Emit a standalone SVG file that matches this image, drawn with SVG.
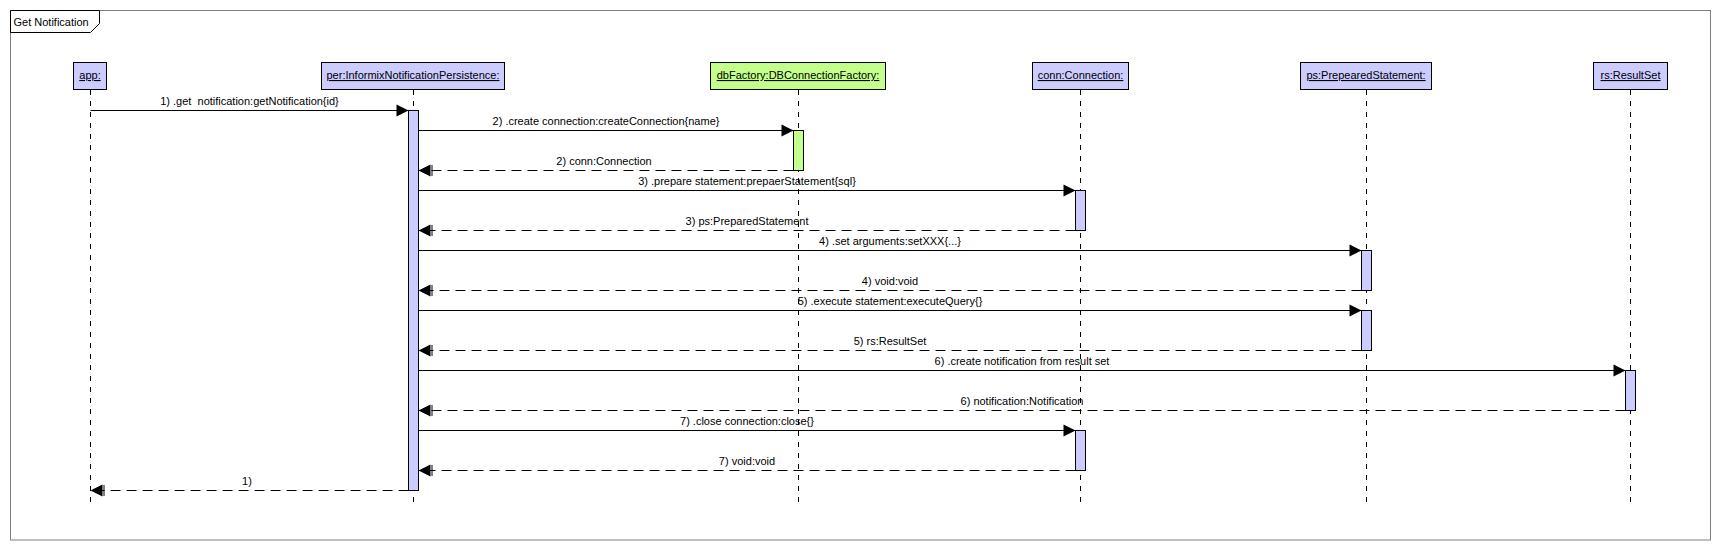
<svg xmlns="http://www.w3.org/2000/svg" width="1720" height="550" viewBox="0 0 1720 550">
<style>
text{font-family:"Liberation Sans",Arial,sans-serif;font-size:11px;fill:#000}
.obj{stroke:#000;stroke-width:1}
.blue{fill:#ccccff}
.green{fill:#c4ff8c}
.name{text-anchor:middle;text-decoration:underline}
.life{stroke:#000;stroke-width:1;stroke-dasharray:5 6;fill:none}
.act{stroke:#000;stroke-width:1}
.call{stroke:#000;stroke-width:1;fill:none;marker-end:url(#callHead)}
.ret{stroke:#000;stroke-width:1;fill:none;stroke-dasharray:10 6;marker-end:url(#retHead)}
.lbl{text-anchor:middle}
</style>
<defs>
<marker id="callHead" markerUnits="userSpaceOnUse" markerWidth="14" markerHeight="14" refX="12" refY="6" orient="auto" overflow="visible">
<path d="M0,0 L12,6 L0,12 Z" fill="#000"/>
</marker>
<marker id="retHead" markerUnits="userSpaceOnUse" markerWidth="14" markerHeight="14" refX="12" refY="6" orient="auto" overflow="visible">
<path d="M0,0 L12,6 L0,12 Z" fill="#000"/>
<path d="M-1.5,0.5 V11.5" stroke="#000" stroke-width="1" fill="none"/>
</marker>
</defs>
<rect x="0" y="0" width="1720" height="550" fill="#fff"/>
<g id="frame">
<rect x="10.5" y="10.5" width="1700" height="529.5" fill="none" stroke="#808080" stroke-width="1"/>
<path d="M10.5,10.5 H99.5 V23.5 L90.5,32.5 H10.5 Z" fill="#fff" stroke="#000" stroke-width="1"/>
<text x="13.5" y="26">Get Notification</text>
</g>
<g id="lifelines">
<line class="life" x1="90.5" y1="90" x2="90.5" y2="507"/>
<line class="life" x1="413.5" y1="90" x2="413.5" y2="507"/>
<line class="life" x1="798.5" y1="90" x2="798.5" y2="507"/>
<line class="life" x1="1080.5" y1="90" x2="1080.5" y2="507"/>
<line class="life" x1="1366.5" y1="90" x2="1366.5" y2="507"/>
<line class="life" x1="1630.5" y1="90" x2="1630.5" y2="507"/>
</g>
<g id="node-app">
<rect class="obj blue" x="73.5" y="62.5" width="33" height="27"/>
<text class="name" x="90" y="79">app:</text>
</g>
<g id="node-per">
<rect class="obj blue" x="321.5" y="62.5" width="183" height="27"/>
<text class="name" x="413" y="79">per:InformixNotificationPersistence:</text>
</g>
<g id="node-dbFactory">
<rect class="obj green" x="710.5" y="62.5" width="175" height="27"/>
<text class="name" x="798" y="79">dbFactory:DBConnectionFactory:</text>
</g>
<g id="node-conn">
<rect class="obj blue" x="1032.5" y="62.5" width="96" height="27"/>
<text class="name" x="1080.5" y="79">conn:Connection:</text>
</g>
<g id="node-ps">
<rect class="obj blue" x="1300.5" y="62.5" width="131" height="27"/>
<text class="name" x="1366" y="79">ps:PrepearedStatement:</text>
</g>
<g id="node-rs">
<rect class="obj blue" x="1593.5" y="62.5" width="74" height="27"/>
<text class="name" x="1630.5" y="79">rs:ResultSet</text>
</g>
<g id="connectors">
<line class="call" x1="90.5" y1="110.5" x2="408.5" y2="110.5"/>
<text class="lbl" x="249.5" y="105" xml:space="preserve">1) .get  notification:getNotification{id}</text>
<line class="call" x1="418.5" y1="130.5" x2="793.5" y2="130.5"/>
<text class="lbl" x="606" y="125">2) .create connection:createConnection{name}</text>
<line class="ret" x1="793.5" y1="170.5" x2="418.5" y2="170.5"/>
<text class="lbl" x="604" y="165">2) conn:Connection</text>
<line class="call" x1="418.5" y1="190.5" x2="1075.5" y2="190.5"/>
<text class="lbl" x="747" y="185">3) .prepare statement:prepaerStatement{sql}</text>
<line class="ret" x1="1075.5" y1="230.5" x2="418.5" y2="230.5"/>
<text class="lbl" x="747" y="225">3) ps:PreparedStatement</text>
<line class="call" x1="418.5" y1="250.5" x2="1361.5" y2="250.5"/>
<text class="lbl" x="890" y="245">4) .set arguments:setXXX{...}</text>
<line class="ret" x1="1361.5" y1="290.5" x2="418.5" y2="290.5"/>
<text class="lbl" x="890" y="285">4) void:void</text>
<line class="call" x1="418.5" y1="310.5" x2="1361.5" y2="310.5"/>
<text class="lbl" x="890" y="305">5) .execute statement:executeQuery{}</text>
<line class="ret" x1="1361.5" y1="350.5" x2="418.5" y2="350.5"/>
<text class="lbl" x="890" y="345">5) rs:ResultSet</text>
<line class="call" x1="418.5" y1="370.5" x2="1625.5" y2="370.5"/>
<text class="lbl" x="1022" y="365">6) .create notification from result set</text>
<line class="ret" x1="1625.5" y1="410.5" x2="418.5" y2="410.5"/>
<text class="lbl" x="1022" y="405">6) notification:Notification</text>
<line class="call" x1="418.5" y1="430.5" x2="1075.5" y2="430.5"/>
<text class="lbl" x="747" y="425">7) .close connection:close{}</text>
<line class="ret" x1="1075.5" y1="470.5" x2="418.5" y2="470.5"/>
<text class="lbl" x="747" y="465">7) void:void</text>
<line class="ret" x1="408.5" y1="490.5" x2="90.5" y2="490.5"/>
<text class="lbl" x="247" y="485">1)</text>
</g>
<g id="activations">
<rect class="act blue" x="408.5" y="110.5" width="10" height="380"/>
<rect class="act green" x="793.5" y="130.5" width="10" height="40"/>
<rect class="act blue" x="1075.5" y="190.5" width="10" height="40"/>
<rect class="act blue" x="1075.5" y="430.5" width="10" height="40"/>
<rect class="act blue" x="1361.5" y="250.5" width="10" height="40"/>
<rect class="act blue" x="1361.5" y="310.5" width="10" height="40"/>
<rect class="act blue" x="1625.5" y="370.5" width="10" height="40"/>
</g>
</svg>
